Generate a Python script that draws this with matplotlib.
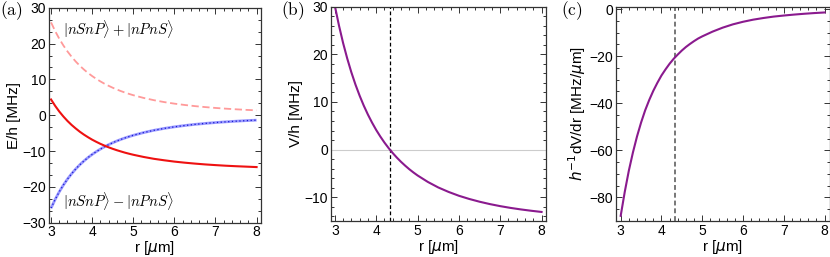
import matplotlib
matplotlib.use("Agg")
import matplotlib.pyplot as plt
from matplotlib.ticker import MultipleLocator

plt.rcParams['font.family'] = ['Liberation Sans', 'DejaVu Sans']
plt.rcParams['mathtext.fontset'] = 'dejavusans'

# ---- data ----
r = [3.0, 3.1, 3.2, 3.3, 3.4, 3.5, 3.6, 3.7, 3.8, 3.9,
     4.0, 4.1, 4.2, 4.3, 4.4, 4.5, 4.6, 4.7, 4.8, 4.9,
     5.0, 5.25, 5.5, 5.75, 6.0, 6.25, 6.5, 6.75, 7.0, 7.25, 7.5, 7.75, 8.0]

E_plus = [25.93, 23.50, 21.36, 19.48, 17.81, 16.33, 15.00, 13.82, 12.76, 11.80,
          10.94, 10.16, 9.45, 8.80, 8.22, 7.68, 7.19, 6.74, 6.33, 5.95,
          5.60, 4.84, 4.21, 3.68, 3.24, 2.87, 2.55, 2.28, 2.04, 1.84, 1.66, 1.50, 1.37]
E_minus = [-25.93, -23.50, -21.36, -19.48, -17.81, -16.33, -15.00, -13.82, -12.76, -11.80,
           -10.94, -10.16, -9.45, -8.80, -8.22, -7.68, -7.19, -6.74, -6.33, -5.95,
           -5.60, -4.84, -4.21, -3.68, -3.24, -2.87, -2.55, -2.28, -2.04, -1.84, -1.66, -1.50, -1.37]
E_red = [4.40, 2.62, 1.04, -0.35, -1.60, -2.71, -3.69, -4.60, -5.41, -6.14,
         -6.82, -7.42, -7.98, -8.48, -8.95, -9.37, -9.76, -10.11, -10.45, -10.75,
         -11.03, -11.64, -12.16, -12.57, -12.94, -13.24, -13.50, -13.73, -13.92, -14.09,
         -14.23, -14.35, -14.47]

V = [30.19, 26.05, 22.37, 19.12, 16.21, 13.62, 11.31, 9.22, 7.35, 5.66,
     4.12, 2.74, 1.47, 0.32, -0.73, -1.69, -2.57, -3.37, -4.12, -4.80,
     -5.43, -6.80, -7.95, -8.89, -9.70, -10.37, -10.95, -11.45, -11.88, -12.25,
     -12.57, -12.85, -13.10]

dVdr = [-87.8, -77.6, -68.6, -60.9, -54.1, -48.2, -43.0, -38.6, -34.7, -31.3,
        -28.2, -25.6, -23.2, -21.1, -19.3, -17.6, -16.1, -14.8, -13.6, -12.5,
        -11.6, -9.6, -7.9, -6.5, -5.4, -4.5, -3.8, -3.2, -2.75, -2.35, -2.0, -1.7, -1.45]

r_zero = 4.33
xticks = [3, 4, 5, 6, 7, 8]

fig = plt.figure(figsize=(8.3, 2.57), dpi=100)
W, H = 830.0, 257.0

def make_ax(l, r_, t, b):
    return fig.add_axes([l / W, 1 - b / H, (r_ - l) / W, (b - t) / H])

axA = make_ax(49, 260.7, 7.8, 222.7)
axB = make_ax(330.7, 545.7, 6.7, 221)
axC = make_ax(616, 829.5, 6.7, 221)

TICK_FS = 10
LAB_FS = 11
frame_col = '#333333'
for ax in (axA, axB, axC):
    for s in ax.spines.values():
        s.set_color(frame_col)
        s.set_linewidth(0.9)
    ax.tick_params(which='both', direction='in', top=True, right=True,
                   color=frame_col, labelsize=TICK_FS, width=0.7)
    ax.tick_params(which='major', length=4, pad=2)
    ax.tick_params(which='minor', length=2)
    ax.set_xticks(xticks)
    ax.xaxis.set_minor_locator(MultipleLocator(0.2))
    ax.set_xlabel(r'r [$\mu$m]', fontsize=LAB_FS, labelpad=0)

# (a)
axA.plot(r, E_plus, color='#ff9a9a', lw=1.3, ls=(0, (4, 2)))
axA.plot(r, E_minus, color='#9a9aff', lw=2.0, solid_capstyle='butt')
axA.plot(r, E_minus, color='#1a1ad0', lw=0.9, ls=(0, (1, 2)))
axA.plot(r, E_red, color='#ee1111', lw=1.5)
axA.set_xlim(2.95, 8.1)
axA.set_ylim(-30, 30)
axA.set_yticks([-30, -20, -10, 0, 10, 20, 30])
axA.yaxis.set_minor_locator(MultipleLocator(10 / 3))
axA.set_ylabel('E/h [MHz]', fontsize=LAB_FS, labelpad=1)
axA.text(3.28, 24, r'$|nSnP\rangle + |nPnS\rangle$', fontsize=10.5,
         math_fontfamily='cm', va='center', ha='left')
axA.text(3.28, -24, r'$|nSnP\rangle - |nPnS\rangle$', fontsize=10.5,
         math_fontfamily='cm', va='center', ha='left')

# (b)
axB.axhline(0, color='#cccccc', lw=0.8)
axB.axvline(r_zero, color='black', lw=0.9, ls=(0, (3, 2)))
axB.plot(r, V, color='#8a1a8e', lw=1.5)
axB.set_xlim(2.9, 8.1)
axB.set_ylim(-15, 30)
axB.set_yticks([-10, 0, 10, 20, 30])
axB.yaxis.set_minor_locator(MultipleLocator(2))
axB.set_ylabel('V/h [MHz]', fontsize=LAB_FS, labelpad=1)

# (c)
axC.axvline(r_zero, color='#777777', lw=1.4, ls=(0, (2.5, 1.5)))
axC.plot(r, dVdr, color='#8a1a8e', lw=1.5)
axC.set_xlim(2.885, 8.12)
axC.set_ylim(-90, 1)
axC.set_yticks([-80, -60, -40, -20, 0])
axC.yaxis.set_minor_locator(MultipleLocator(5))
axC.set_ylabel(r'$h^{-1}$dV/dr [MHz/$\mu$m]', fontsize=LAB_FS, labelpad=1)

for lab, x in (('(a)', 0), ('(b)', 281), ('(c)', 561)):
    fig.text(x / W, 1 - 11 / H, r'$\mathrm{' + lab + '}$', fontsize=12.5,
             math_fontfamily='cm', va='center', ha='left')

fig.savefig('out.png', dpi=100)
